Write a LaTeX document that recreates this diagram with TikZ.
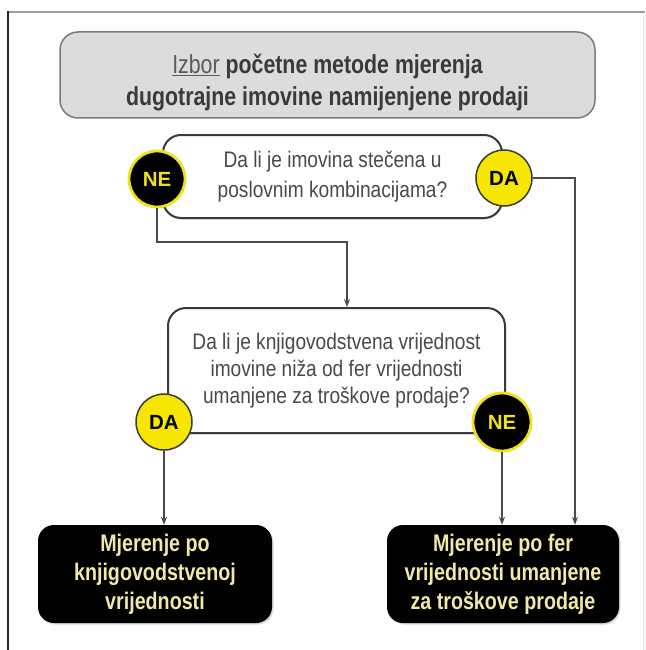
\documentclass[tikz,border=0pt]{standalone}
\usepackage{fontspec}
\setmainfont{Liberation Sans}
\newfontfamily\narrowfont{Liberation Sans}[FakeStretch=0.82]
\newfontfamily\qfont{Liberation Sans}[FakeStretch=0.85]
\usetikzlibrary{arrows.meta,shadows}
\definecolor{titlefill}{HTML}{DCDCDC}
\definecolor{titleborder}{HTML}{7A7A7A}
\definecolor{titletext}{HTML}{3A3A3A}
\definecolor{izborc}{HTML}{5A5A5A}
\definecolor{qborder}{HTML}{3A3A3A}
\definecolor{qtext}{HTML}{4A4A4A}
\definecolor{cream}{HTML}{F2E9A6}
\definecolor{neyellow}{HTML}{EFE21A}
\definecolor{dayellow}{HTML}{F7E600}
\definecolor{daborder}{HTML}{3A3A3A}
\definecolor{connc}{HTML}{4A4A4A}
\begin{document}
\begin{tikzpicture}[x=1pt,y=-1pt,
  titlebox/.style={draw=titleborder, fill=titlefill, line width=1.5pt, rounded corners=18pt,
    minimum width=535pt, minimum height=86pt, align=center, inner sep=0pt,
    font=\narrowfont\bfseries\fontsize{26}{32}\selectfont, text=titletext},
  qbox/.style={draw=qborder, fill=white, line width=2pt, rounded corners=18pt,
    align=center, inner sep=0pt, text=qtext,
    drop shadow={opacity=0.25, shadow xshift=1pt, shadow yshift=-1.5pt}},
  resbox/.style={fill=black, rounded corners=16pt, align=center, inner sep=0pt,
    minimum height=98pt, text=cream,
    font=\narrowfont\bfseries\fontsize{24}{29}\selectfont,
    drop shadow={opacity=0.3, shadow xshift=1.5pt, shadow yshift=-1.5pt}},
  necirc/.style={circle, fill=black, draw=neyellow, line width=2.8pt, minimum size=56pt,
    inner sep=0pt, text=neyellow, font=\bfseries\fontsize{20.5}{20.5}\selectfont},
  dacirc/.style={circle, fill=dayellow, draw=daborder, line width=1.5pt, minimum size=56pt,
    inner sep=0pt, text=black, font=\bfseries\fontsize{20.5}{20.5}\selectfont},
  conn/.style={draw=connc, line width=1.5pt, -{Stealth[length=8pt,width=6pt]}}
]
\useasboundingbox (0,0) rectangle (645,650);
\fill[white] (0,0) rectangle (645,650);
% frame
\draw[line width=2.5pt, gray!75] (8,12) -- (645,12);
\draw[line width=2pt, black!85] (8,11) -- (8,650);
\draw[line width=0.8pt, gray!20] (643,13) -- (643,650);
% boxes
\node[titlebox] (title) at (327.5,75)
  {\rule{0pt}{34pt}{\mdseries\color{izborc}\underline{Izbor}} početne metode mjerenja\\dugotrajne imovine namijenjene prodaji};
\node[qbox, minimum width=339pt, minimum height=83pt,
  font=\qfont\fontsize{22.5}{30}\selectfont] (q1) at (332.5,176.5)
  {Da li je imovina stečena u\\poslovnim kombinacijama?};
\node[qbox, minimum width=337pt, minimum height=125pt,
  font=\qfont\fontsize{22.5}{27}\selectfont] (q2) at (336.5,370.5)
  {Da li je knjigovodstvena vrijednost\\imovine niža od fer vrijednosti\\umanjene za troškove prodaje?};
\node[resbox, minimum width=234pt] (lbox) at (155,574)
  {Mjerenje po\\knjigovodstvenoj\\vrijednosti};
\node[resbox, minimum width=232pt] (rbox) at (503,574)
  {Mjerenje po fer\\vrijednosti umanjene\\za troškove prodaje};
% circles
\node[necirc] (ne1) at (157,179) {NE};
\node[dacirc] (da1) at (504,178) {DA};
\node[dacirc] (da2) at (164,422) {DA};
\node[necirc, minimum size=58pt] (ne2) at (502,422) {NE};
% connectors
\coordinate (xr) at (575,0);
\coordinate (j1) at (347,242);
\draw[conn] (da1.east) -- (da1.east -| xr) -- (xr |- rbox.north);
\draw[conn] (ne1.south) |- (j1) -- (j1 |- q2.north);
\draw[conn] (da2.south) -- (da2.south |- lbox.north);
\draw[conn] (ne2.south) -- (ne2.south |- rbox.north);
\end{tikzpicture}
\end{document}
